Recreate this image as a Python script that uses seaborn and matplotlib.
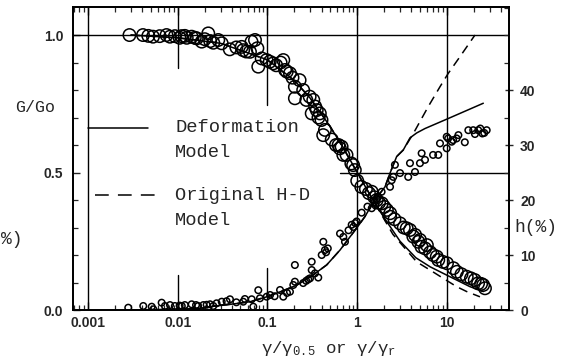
import matplotlib
matplotlib.use("Agg")
import numpy as np
import pandas as pd
import matplotlib.pyplot as plt
import seaborn as sns
from matplotlib.ticker import FixedLocator, LogLocator, NullFormatter, FixedFormatter

# ---------------- data ----------------
# G/Go measured data (large circles)
g_x = [0.0029, 0.0041, 0.0047, 0.0053, 0.0063, 0.0075, 0.0082, 0.0093, 0.011, 0.0126,
       0.0143, 0.0163, 0.0185, 0.0219, 0.0249, 0.0283, 0.0309, 0.038, 0.0516, 0.0535,
       0.0638, 0.0664, 0.0726, 0.0772, 0.079, 0.0862, 0.0978, 0.106, 0.116, 0.15,
       0.157, 0.164, 0.178, 0.202, 0.202, 0.228, 0.271, 0.295, 0.324, 0.354,
       0.311, 0.383, 0.40, 0.437, 0.418, 0.64, 0.67, 0.70, 0.76, 0.86,
       0.90, 0.94, 1.11, 1.45, 1.65, 1.88, 2.14, 2.33, 2.33, 3.0,
       3.56, 3.87, 4.22, 4.42, 4.8, 5.0, 5.2, 5.7, 5.97, 7.7,
       8.0, 10.0, 11.8, 12.9, 16.6, 20.4, 22.2, 25.3, 26.5,
       0.0105, 0.012, 0.0155, 0.02, 0.023, 0.045, 0.058, 0.125, 0.14, 0.19,
       0.25, 0.34, 0.37, 0.52, 0.58, 0.62, 1.0, 1.25, 1.35, 1.55,
       1.75, 2.0, 2.6, 3.3, 6.5, 7.0, 9.0, 14.5, 18.5, 24.0]
g_val = [1.00, 1.00, 0.997, 0.994, 0.996, 1.00, 0.994, 0.996, 0.996, 0.99,
         0.994, 0.988, 0.976, 1.006, 0.972, 0.982, 0.97, 0.948, 0.957, 0.945,
         0.939, 0.976, 0.982, 0.952, 0.885, 0.915, 0.909, 0.903, 0.897, 0.909,
         0.873, 0.867, 0.861, 0.812, 0.77, 0.836, 0.764, 0.776, 0.764, 0.727,
         0.715, 0.715, 0.691, 0.655, 0.636, 0.588, 0.594, 0.564, 0.564, 0.533,
         0.527, 0.509, 0.448, 0.43, 0.40, 0.388, 0.364, 0.352, 0.339, 0.315,
         0.297, 0.291, 0.267, 0.273, 0.248, 0.255, 0.23, 0.224, 0.236, 0.194,
         0.182, 0.17, 0.152, 0.139, 0.121, 0.109, 0.097, 0.091, 0.079,
         0.99, 0.997, 0.99, 0.985, 0.978, 0.955, 0.94, 0.89, 0.90, 0.845,
         0.80, 0.74, 0.70, 0.62, 0.60, 0.60, 0.47, 0.44, 0.425, 0.41,
         0.39, 0.375, 0.33, 0.30, 0.21, 0.20, 0.175, 0.13, 0.115, 0.095]

# damping ratio h(%) measured data (small circles)
h_x = [0.00281, 0.00413, 0.00513, 0.00535, 0.00662, 0.0072, 0.0082, 0.0093, 0.0111, 0.012,
       0.0143, 0.0169, 0.0193, 0.0229, 0.0249, 0.0271, 0.0309, 0.0382, 0.0537, 0.0667,
       0.0695, 0.079, 0.0824, 0.098, 0.107, 0.138, 0.15, 0.178, 0.194, 0.202,
       0.202, 0.285, 0.298, 0.311, 0.311, 0.338, 0.368, 0.402, 0.419, 0.437,
       0.643, 0.73, 0.867, 0.904, 0.986, 1.12, 1.45, 1.72, 1.87, 2.32,
       2.42, 2.52, 2.63, 3.0, 3.7, 3.87, 4.4, 5.0, 5.22, 5.69,
       7.0, 8.0, 8.36, 9.93, 9.93, 10.3, 11.3, 11.7, 12.8, 13.4,
       15.8, 17.3, 19.6, 22.3, 24.8, 27.7,
       1.3, 1.55, 1.65, 1.6, 0.45, 0.47, 0.95, 0.8, 0.7, 20.5,
       23.5, 26.0, 0.0105, 0.016, 0.021, 0.035, 0.045, 0.056, 0.12, 0.165,
       0.25, 0.27]
h_val = [0.42, 0.73, 0.6, 0.13, 1.33, 0.73, 0.9, 0.73, 0.73, 0.9,
         1.04, 0.73, 0.9, 1.04, 0.73, 1.22, 1.51, 1.95, 1.51, 1.95,
         0.6, 3.6, 2.13, 2.42, 2.73, 3.64, 2.42, 3.33, 4.55, 5.15,
         8.18, 5.58, 5.76, 8.78, 7.27, 6.67, 5.9, 10.0, 12.4, 10.9,
         13.9, 12.4, 15.5, 15.1, 16.1, 17.7, 18.5, 20.6, 21.5, 22.4,
         23.6, 24.2, 26.4, 24.9, 24.2, 26.7, 25.1, 26.7, 28.5, 27.3,
         28.2, 28.2, 30.3, 29.4, 31.5, 31.2, 30.6, 30.9, 31.2, 31.8,
         30.5, 32.7, 32.7, 32.7, 32.1, 32.7,
         18.8, 19.6, 20.2, 19.0, 10.5, 11.2, 15.8, 14.5, 13.3, 32.0,
         33.0, 32.2, 0.8, 0.9, 0.95, 1.6, 1.4, 2.0, 2.5, 3.1,
         4.9, 5.3]

# Deformation model (solid) and original H-D model (dashed) curves
defG_x = [0.003, 0.01, 0.03, 0.1, 0.2, 0.3, 0.5, 0.7, 1.0, 1.5, 2.0, 3.0, 4.5, 6.5, 10.8, 18.0, 25.4]
defG_y = [1.0, 0.99, 0.97, 0.91, 0.835, 0.77, 0.667, 0.59, 0.50, 0.40, 0.335, 0.25, 0.19, 0.157, 0.121, 0.085, 0.067]
hdG_x = [0.003, 0.01, 0.03, 0.1, 0.2, 0.3, 0.5, 0.7, 1.0, 1.5, 2.5, 4.6, 6.5, 9.1, 12.8, 16.6, 23.3]
hdG_y = [1.0, 0.99, 0.971, 0.909, 0.833, 0.77, 0.667, 0.588, 0.5, 0.4, 0.275, 0.175, 0.145, 0.115, 0.085, 0.067, 0.048]

defH_x = [0.003, 0.01, 0.0177, 0.0229, 0.0416, 0.0638, 0.098, 0.138, 0.211, 0.324, 0.457, 0.643,
          0.986, 1.22, 1.45, 1.79, 2.04, 2.32, 2.75, 3.26, 3.87, 4.6, 5.69, 9.93, 25.4]
defH_y = [0.0, 0.15, 0.3, 0.6, 1.1, 1.5, 2.4, 3.3, 4.5, 6.4, 8.2, 10.9,
          14.9, 17.0, 19.1, 21.2, 22.4, 24.9, 27.9, 29.1, 31.3, 32.2, 33.0, 34.7, 37.6]
hdH_x = [0.003, 0.01, 0.0177, 0.0229, 0.0416, 0.0638, 0.098, 0.138, 0.211, 0.324, 0.457, 0.643,
         0.986, 1.22, 1.45, 1.79, 2.04, 2.32, 2.75, 3.26, 4.22, 6.19, 8.36, 10.3, 14.0, 20.5]
hdH_y = [0.0, 0.15, 0.3, 0.6, 1.1, 1.5, 2.4, 3.3, 4.5, 6.4, 8.2, 10.9,
         14.9, 17.0, 19.1, 21.2, 22.4, 24.9, 27.9, 29.1, 32.1, 37.0, 40.6, 43.0, 46.1, 50.0]

x_ticks = [0.001, 0.01, 0.1, 1, 10]
x_tick_labels = ["0.001", "0.01", "0.1", "1", "10"]
g_ticks = [0.0, 0.5, 1.0]
g_tick_labels = ["0.0", "0.5", "1.0"]
h_ticks = [0, 10, 20, 30, 40]
h_tick_labels = ["0", "10", "20", "30", "40"]

# ---------------- figure ----------------
sns.set_style("white")
plt.rcParams["font.family"] = ["Liberation Sans", "DejaVu Sans"]
plt.rcParams["mathtext.fontset"] = "custom"
plt.rcParams["mathtext.rm"] = "Liberation Mono"
plt.rcParams["mathtext.it"] = "Liberation Mono"

W, H = 564, 362
fig = plt.figure(figsize=(W / 100, H / 100), dpi=100)
L, R, T, B = 73, 509, 7, 310
ax = fig.add_axes([L / W, 1 - B / H, (R - L) / W, (B - T) / H])
ax2 = ax.twinx()

df_g = pd.DataFrame({"x": g_x, "G": g_val})
df_h = pd.DataFrame({"x": h_x, "h": h_val})

lw_line = 1.1
sns.lineplot(x=defG_x, y=defG_y, ax=ax, color="black", lw=lw_line, estimator=None, sort=False)
sns.lineplot(x=hdG_x, y=hdG_y, ax=ax, color="black", lw=lw_line, estimator=None, sort=False)
ax.lines[-1].set_dashes([6, 4])
sns.scatterplot(data=df_g, x="x", y="G", ax=ax, s=80, marker="o",
                facecolor="none", edgecolor="black", linewidth=1.1, zorder=3)

sns.lineplot(x=defH_x, y=defH_y, ax=ax2, color="black", lw=lw_line, estimator=None, sort=False)
sns.lineplot(x=hdH_x, y=hdH_y, ax=ax2, color="black", lw=lw_line, estimator=None, sort=False)
ax2.lines[-1].set_dashes([6, 4])
sns.scatterplot(data=df_h, x="x", y="h", ax=ax2, s=22, marker="o",
                facecolor="none", edgecolor="black", linewidth=1.1, zorder=3)

ax.set_xscale("log")
ax.set_xlim(6.81e-4, 49.1)
ax.set_ylim(0, 1.102)
ax2.set_ylim(0, 55.1)

# grid lines (partial where the legend sits)
grid_v = [(0.001, 0, 1), (0.01, 0, 0.1155), (0.01, 0.799, 1), (0.1, 0, 0.139), (0.1, 0.677, 1),
          (1, 0, 1), (10, 0, 1)]
for gx, y0, y1 in grid_v:
    ax.axvline(gx, ymin=y0, ymax=y1, color="black", lw=1.0, zorder=1)
ax.axhline(1.0, color="black", lw=1.0, zorder=1)
ax.axhline(0.5, xmin=0.612, xmax=1, color="black", lw=1.0, zorder=1)

# ticks
ax.xaxis.set_major_locator(FixedLocator(x_ticks))
ax.xaxis.set_major_formatter(FixedFormatter(x_tick_labels))
ax.xaxis.set_minor_locator(LogLocator(base=10, subs=range(2, 10), numticks=20))
ax.xaxis.set_minor_formatter(NullFormatter())
ax.set_yticks(g_ticks)
ax.set_yticklabels(g_tick_labels)
ax.yaxis.set_minor_locator(FixedLocator(np.arange(0, 1.1, 0.1)))
ax2.set_yticks(h_ticks)
ax2.set_yticklabels(h_tick_labels)
ax2.yaxis.set_minor_locator(FixedLocator(np.arange(0, 56, 5)))
for t in ax.get_xticklabels() + ax.get_yticklabels() + ax2.get_yticklabels():
    t.set_fontsize(10)
    t.set_fontweight("bold")

ax.tick_params(axis="x", which="major", direction="in", length=6, width=1.0, top=True, bottom=True, pad=4)
ax.tick_params(axis="x", which="minor", direction="in", length=3.5, width=0.9, top=True, bottom=True)
ax.tick_params(axis="y", which="major", direction="in", length=5, width=1.0, left=True, right=False, pad=7)
ax.tick_params(axis="y", which="minor", direction="in", length=3.5, width=0.9, left=True, right=False)
ax2.tick_params(axis="y", which="major", direction="inout", length=6, width=1.0, right=True, pad=5)
ax2.tick_params(axis="y", which="minor", direction="in", length=3.5, width=0.9, right=True)

for a in (ax, ax2):
    for s in a.spines.values():
        s.set_visible(True)
        s.set_linewidth(1.3)
        s.set_color("black")
ax.set_xlabel("")
ax.set_ylabel("")
ax2.set_ylabel("")

mono = ["Liberation Mono", "DejaVu Sans Mono"]
# legend drawn by hand
ax.plot([0.034, 0.172], [0.6007, 0.6007], transform=ax.transAxes, color="black", lw=1.1)
ln, = ax.plot([0.05, 0.188], [0.3795, 0.3795], transform=ax.transAxes, color="black", lw=1.1)
ln.set_dashes([9, 6])
ax.text(0.234, 0.6007, "Deformation", transform=ax.transAxes, family=mono, fontsize=13.5, va="center", ha="left")
ax.text(0.234, 0.521, "Model", transform=ax.transAxes, family=mono, fontsize=13.5, va="center", ha="left")
ax.text(0.234, 0.3795, "Original H-D", transform=ax.transAxes, family=mono, fontsize=13.5, va="center", ha="left")
ax.text(0.234, 0.294, "Model", transform=ax.transAxes, family=mono, fontsize=13.5, va="center", ha="left")

# axis titles
fig.text(35 / W, 1 - 107 / H, "G/Go", family=mono, fontsize=12, ha="center", va="center")
fig.text(514 / W, 1 - 228 / H, "h(%)", family=mono, fontsize=13, ha="left", va="center")
fig.text(1 / W, 1 - 240 / H, "%)", family=mono, fontsize=13, ha="left", va="center")
fig.text(329 / W, 1 - 348 / H, r"$\mathrm{γ/γ_{0.5}}$ or $\mathrm{γ/γ_{r}}$",
         family=mono, fontsize=12.5, ha="center", va="center")

fig.savefig("out.png", dpi=100, facecolor="white")
